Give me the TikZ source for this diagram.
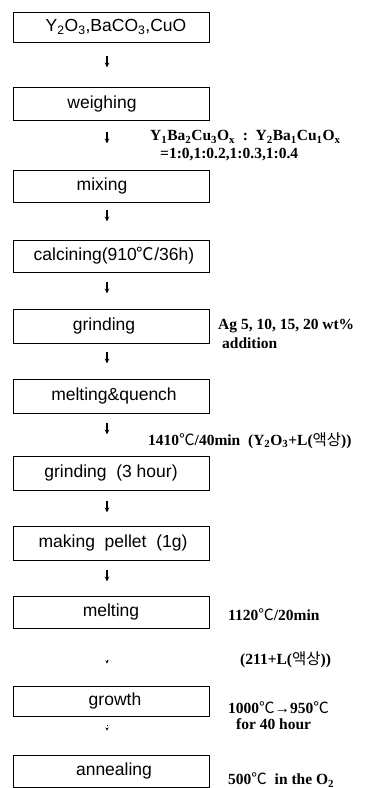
\documentclass[tikz,border=0pt]{standalone}
\usepackage{fontspec}
\setmainfont{Liberation Serif}
\newfontfamily\boxfont{Liberation Sans}
\newfontfamily\cjk{Noto Sans CJK KR}
\usetikzlibrary{arrows.meta}
\newcommand{\dC}{{\cjk\mdseries ℃}}
\newcommand{\ksang}{{\cjk\mdseries 액상}}
\begin{document}
\begin{tikzpicture}[x=1pt,y=-1pt,
  stepbox/.style={draw, line width=1pt, minimum width=196pt, inner sep=0pt,
    font=\boxfont\fontsize{17.5}{19}\selectfont},
  note/.style={anchor=west, inner sep=0pt, font=\bfseries\fontsize{15.5}{17}\selectfont},
  arr/.style={line width=1.3pt, -{Stealth[length=5pt,width=4.5pt]}}]
\useasboundingbox (0,0) rectangle (383,788);

% process boxes
\node[stepbox, minimum height=30pt] (b1) at (111,27) {\hspace*{10pt}Y\textsubscript{2}O\textsubscript{3},BaCO\textsubscript{3},CuO};
\node[stepbox, minimum height=33pt] (b2) at (111,103.5) {weighing\hspace*{18pt}};
\node[stepbox, minimum height=32pt] (b3) at (111,186) {mixing\hspace*{18pt}};
\node[stepbox, minimum height=32pt] (b4) at (111,256) {\hspace*{6pt}calcining(910\dC/36h)};
\node[stepbox, minimum height=34pt] (b5) at (111,326) {grinding\hspace*{14pt}};
\node[stepbox, minimum height=34pt] (b6) at (111,396) {\hspace*{6pt}melting\&quench};
\node[stepbox, minimum height=34pt] (b7) at (111,473) {grinding\ \ (3 hour)};
\node[stepbox, minimum height=34pt] (b8) at (111,543) {\hspace*{4pt}making\ \ pellet\ \ (1g)};
\node[stepbox, minimum height=32pt] (b9) at (111,612) {melting};
\node[stepbox, minimum height=30pt] (b10) at (111,701) {\hspace*{8pt}growth};
\node[stepbox, minimum height=32pt] (b11) at (111,771) {\hspace*{6pt}annealing};

% arrows
\draw[arr, shorten <=13pt, shorten >=19pt] ([xshift=-4pt]b1.south) -- ([xshift=-4pt]b2.north);
\draw[arr, shorten <=11pt, shorten >=26pt] ([xshift=-4pt]b2.south) -- ([xshift=-4pt]b3.north);
\draw[arr, shorten <=7pt, shorten >=18pt] ([xshift=-4pt]b3.south) -- ([xshift=-4pt]b4.north);
\draw[arr, shorten <=9pt, shorten >=15pt] ([xshift=-4pt]b4.south) -- ([xshift=-4pt]b5.north);
\draw[arr, shorten <=8pt, shorten >=15pt] ([xshift=-4pt]b5.south) -- ([xshift=-4pt]b6.north);
\draw[arr, shorten <=9pt, shorten >=21pt] ([xshift=-4pt]b6.south) -- ([xshift=-4pt]b7.north);
\draw[arr, shorten <=10pt, shorten >=13pt] ([xshift=-4pt]b7.south) -- ([xshift=-4pt]b8.north);
\draw[arr, shorten <=9pt, shorten >=14pt] ([xshift=-4pt]b8.south) -- ([xshift=-4pt]b9.north);
\draw[line width=0.8pt, -{Stealth[length=3pt,width=3pt]}, shorten <=31pt, shorten >=22pt] ([xshift=-4pt]b9.south) -- ([xshift=-4pt]b10.north);
\draw[line width=1pt, dotted, -{Stealth[length=3pt,width=3pt]}, shorten <=8pt, shorten >=24pt] ([xshift=-4pt]b10.south) -- ([xshift=-4pt]b11.north);

% annotations
\node[note] (n1) at (150,137) {Y\textsubscript{1}Ba\textsubscript{2}Cu\textsubscript{3}O\textsubscript{x}\ \ :\ \ Y\textsubscript{2}Ba\textsubscript{1}Cu\textsubscript{1}O\textsubscript{x}};
\node[note] (n2) at (160,155) {=1:0,1:0.2,1:0.3,1:0.4};
\node[note] (n3) at (218,326) {Ag 5, 10, 15, 20 wt\%};
\node[note] (n4) at (222,343) {addition};
\node[note] (n5) at (148,441) {1410\dC/40min\ \ (Y\textsubscript{2}O\textsubscript{3}+L(\ksang))};
\node[note] (n6) at (228,615) {1120\dC/20min};
\node[note] (n7) at (240,660) {(211+L(\ksang))};
\node[note] (n8) at (228,708) {1000\dC→950\dC};
\node[note] (n9) at (236,724) {for 40 hour};
\node[note] (n10) at (228,780) {500\dC\ \ in the O\textsubscript{2}};
\end{tikzpicture}
\end{document}
